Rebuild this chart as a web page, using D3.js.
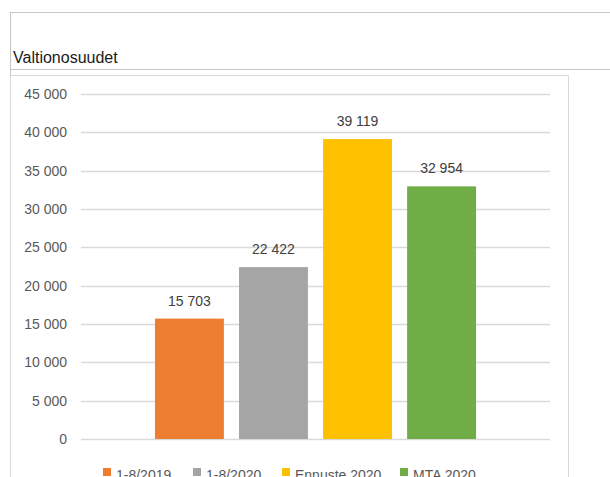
<!DOCTYPE html>
<html>
<head>
<meta charset="utf-8">
<title>Valtionosuudet</title>
<script src="https://d3js.org/d3.v7.min.js"></script>
<style>
  body { margin: 0; background: #fff; }
  text { font-family: "Liberation Sans", Arial, sans-serif; }
</style>
</head>
<body>
<script>

// data
var title = "Valtionosuudet";
var series = ["1-8/2019", "1-8/2020", "Ennuste 2020", "MTA 2020"];
var values = [15703, 22422, 39119, 32954];
var colours = ["#ED7D31", "#A5A5A5", "#FFC000", "#70AD47"];
var ticks = [0, 5000, 10000, 15000, 20000, 25000, 30000, 35000, 40000, 45000];

var width = 610, height = 477;

var svg = d3.select("body").append("svg")
    .attr("width", width)
    .attr("height", height);

// frame lines round the sheet area
svg.append("line").attr("x1", 10).attr("x2", width).attr("y1", 12.5).attr("y2", 12.5)
    .attr("stroke", "#c6c6c6");
svg.append("line").attr("x1", 10.5).attr("x2", 10.5).attr("y1", 12).attr("y2", height)
    .attr("stroke", "#c6c6c6");
svg.append("line").attr("x1", 10).attr("x2", width).attr("y1", 69.5).attr("y2", 69.5)
    .attr("stroke", "#c6c6c6");

// chart box
svg.append("path")
    .attr("d", "M10.5," + height + "V75.5H568.5V" + height)
    .attr("fill", "none")
    .attr("stroke", "#d9d9d9");

svg.append("text")
    .attr("x", 13).attr("y", 63)
    .attr("font-size", 16)
    .attr("fill", "#1a1a1a")
    .text(title);

// scales
var y = d3.scaleLinear().domain([0, 45000]).range([439, 94]);
var x = d3.scaleBand().domain(series).range([81, 550])
    .paddingInner(0.18).paddingOuter(0.88);

var fmt = function (v) { return d3.format(",")(v).replace(/,/g, " "); };

// gridlines
svg.selectAll("line.grid")
    .data(ticks)
    .enter().append("line")
    .attr("class", "grid")
    .attr("x1", 81).attr("x2", 550)
    .attr("y1", function (d) { return Math.round(y(d)) + 0.5; })
    .attr("y2", function (d) { return Math.round(y(d)) + 0.5; })
    .attr("stroke", "#d9d9d9")
    .attr("stroke-width", 1.3);

// y axis labels
svg.selectAll("text.tick")
    .data(ticks)
    .enter().append("text")
    .attr("class", "tick")
    .attr("x", 67)
    .attr("y", function (d) { return y(d) + 5; })
    .attr("text-anchor", "end")
    .attr("font-size", 14)
    .attr("fill", "#595959")
    .text(fmt);

// bars
svg.selectAll("rect.bar")
    .data(values)
    .enter().append("rect")
    .attr("class", "bar")
    .attr("x", function (d, i) { return x(series[i]); })
    .attr("y", function (d) { return y(d); })
    .attr("width", x.bandwidth())
    .attr("height", function (d) { return y(0) - y(d); })
    .attr("fill", function (d, i) { return colours[i]; });

// value labels
svg.selectAll("text.val")
    .data(values)
    .enter().append("text")
    .attr("class", "val")
    .attr("x", function (d, i) { return x(series[i]) + x.bandwidth() / 2; })
    .attr("y", function (d) { return y(d) - 13; })
    .attr("text-anchor", "middle")
    .attr("font-size", 14)
    .attr("fill", "#404040")
    .text(fmt);

// legend, cut off by the bottom of the picture as in the original
var legendX = [103, 193, 282, 400];
var legend = svg.selectAll("g.leg")
    .data(series)
    .enter().append("g")
    .attr("class", "leg")
    .attr("transform", function (d, i) { return "translate(" + legendX[i] + ",468)"; });

legend.append("rect")
    .attr("width", 8).attr("height", 8)
    .attr("fill", function (d, i) { return colours[i]; });

legend.append("text")
    .attr("x", 13).attr("y", 12)
    .attr("font-size", 14)
    .attr("fill", "#595959")
    .text(function (d) { return d; });

</script>
</body>
</html>
